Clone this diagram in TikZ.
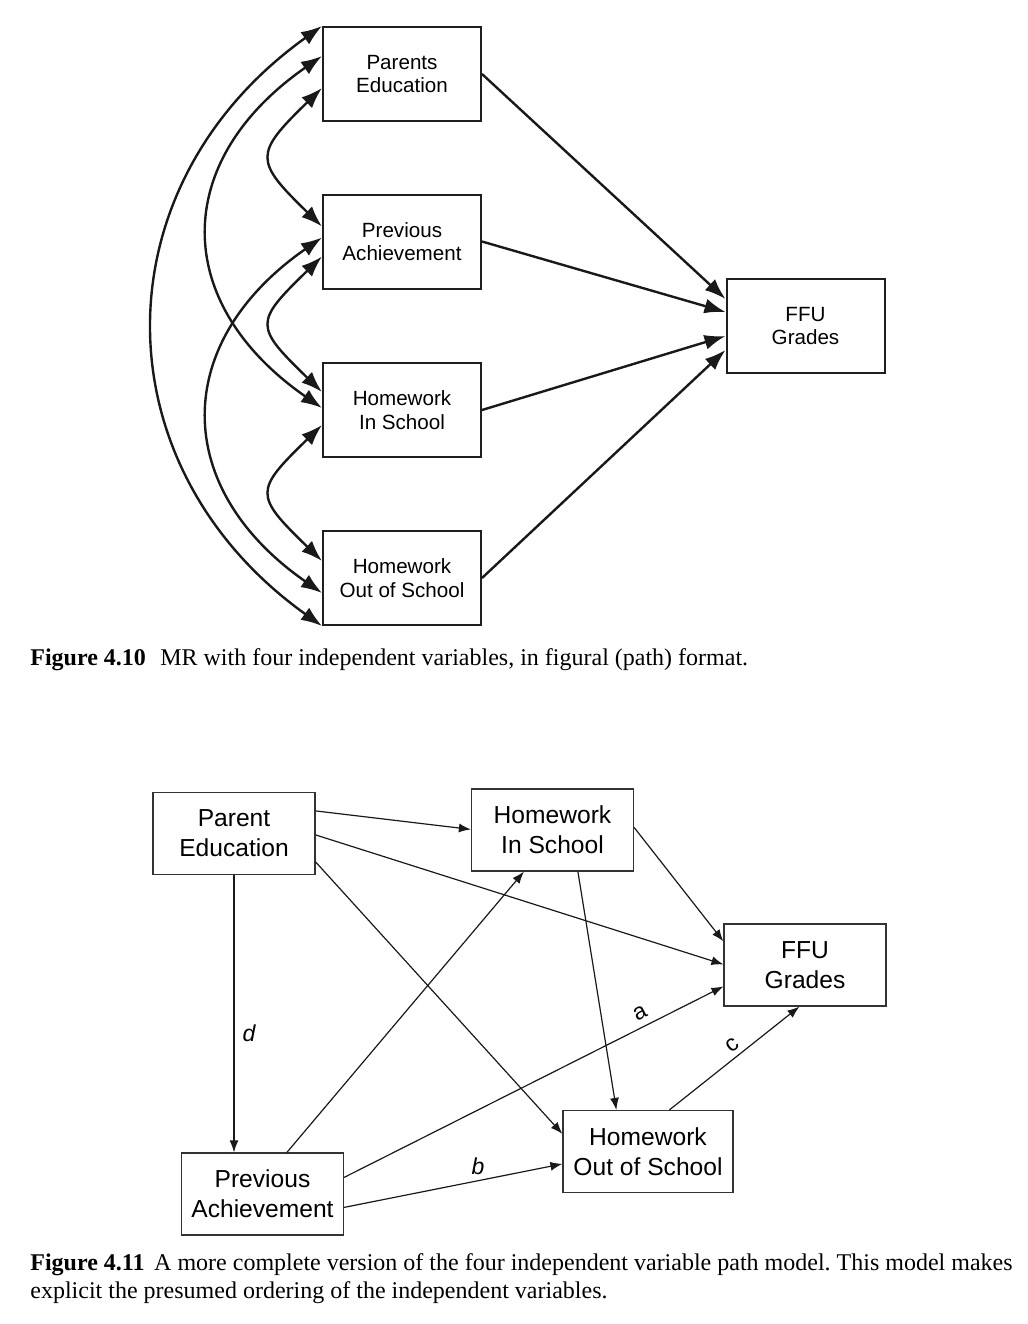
\documentclass[tikz,border=0pt]{standalone}
\usepackage{fontspec}
\setmainfont{Liberation Serif}
\setsansfont{Liberation Sans}
\usetikzlibrary{arrows.meta,calc}
\frenchspacing
\begin{document}
\begin{tikzpicture}[x=0.5pt,y=-0.5pt,
  topbox/.style={draw=black!88, line width=1pt, fill=white, minimum width=79pt, minimum height=47pt, inner sep=0pt, align=center, font=\sffamily\fontsize{10.3}{11.8}\selectfont},
  botbox/.style={draw=black!80, line width=0.6pt, fill=white, minimum width=81pt, minimum height=41pt, inner sep=0pt, align=center, font=\sffamily\fontsize{12.3}{15}\selectfont},
  bi/.style={{Latex[length=10.5pt,width=7.5pt]}-{Latex[length=10.5pt,width=7.5pt]}, line width=1.2pt, draw=black!90},
  onearrow/.style={-{Latex[length=10.5pt,width=7.5pt]}, line width=1.2pt, draw=black!90},
  uni/.style={-{Latex[length=6pt,width=4.5pt]}, line width=0.6pt, draw=black!90},
  lbl/.style={font=\sffamily\itshape\fontsize{11.5}{13}\selectfont, inner sep=0pt},
  lblup/.style={font=\sffamily\fontsize{11.5}{13}\selectfont, inner sep=0pt},
  capt/.style={anchor=base west, inner sep=0pt, font=\rmfamily\fontsize{12}{14}\selectfont}
]
\useasboundingbox (0,0) rectangle (1028,1324);

% ---------------- Figure 4.10 ----------------
\node[topbox] (pe) at (402,74) {Parents\\Education};
\node[topbox] (pa) at (402,241.5) {Previous\\Achievement};
\node[topbox] (his) at (402,410) {Homework\\In School};
\node[topbox] (hos) at (402,578) {Homework\\Out of School};
\node[topbox] (ffu) at (805.5,326) {FFU\\Grades};

\coordinate (pe1) at (pe.north west);
\coordinate (pe2) at ($(pe.north west)+(0,30)$);
\coordinate (pe3) at ($(pe.north west)+(0,62)$);
\coordinate (pa1) at ($(pa.north west)+(0,33)$);
\coordinate (pa2) at ($(pa.north west)+(0,44)$);
\coordinate (pa3) at ($(pa.north west)+(0,63)$);
\coordinate (his1) at ($(his.north west)+(0,30)$);
\coordinate (his2) at ($(his.north west)+(0,46)$);
\coordinate (his3) at ($(his.north west)+(0,63)$);
\coordinate (hos1) at ($(hos.north west)+(0,31)$);
\coordinate (hos2) at ($(hos.north west)+(0,63)$);
\coordinate (hos3) at (hos.south west);

\draw[bi] (pe3) .. controls +(-68,66) and +(-68,-66) .. (pa1);
\draw[bi] (pa3) .. controls +(-68,66) and +(-68,-66) .. (his1);
\draw[bi] (his3) .. controls +(-68,66) and +(-68,-66) .. (hos1);
\draw[bi] (pe2) .. controls +(-151,105) and +(-151,-105) .. (his2);
\draw[bi] (pa2) .. controls +(-151,105) and +(-151,-105) .. (hos2);
\draw[bi] (pe1) .. controls +(-224,160) and +(-224,-160) .. (hos3);

\draw[onearrow] (pe.east) -- ($(ffu.west)+(0,-27)$);
\draw[onearrow] (pa.east) -- ($(ffu.west)+(0,-14)$);
\draw[onearrow] (his.east) -- ($(ffu.west)+(0,10)$);
\draw[onearrow] (hos.east) -- ($(ffu.west)+(0,24)$);

\node[capt] (cap1) at (30,665) {\textbf{Figure 4.10}\hspace{0.6em}MR with four independent variables, in figural (path) format.};

% ---------------- Figure 4.11 ----------------
\node[botbox] (bpe) at (234,833.5) {Parent\\Education};
\node[botbox] (bhis) at (552.5,830) {Homework\\In School};
\node[botbox] (bpa) at (262.5,1194) {Previous\\Achievement};
\node[botbox, minimum width=85pt] (bhos) at (648,1151.5) {Homework\\Out of School};
\node[botbox] (bffu) at (805,965) {FFU\\Grades};

\draw[uni] ($(bpe.north east)+(0,19)$) -- ($(bhis.north west)+(0,41)$);
\draw[uni] ($(bpe.north east)+(0,43)$) -- ($(bffu.north west)+(0,41)$);
\draw[uni] ($(bpe.north east)+(0,70)$) -- ($(bhos.north west)+(0,24)$);
\draw[uni] (bpe.south) -- node[lbl, right=4pt, pos=0.57] (ld) {d} (bpe.south |- bpa.north);
\draw[uni] ($(bpa.north west)+(106,0)$) -- ($(bhis.south west)+(53,0)$);
\draw[uni] ($(bpa.north east)+(0,25)$) -- ($(bffu.north west)+(0,63)$);
\draw[uni] ($(bpa.north east)+(0,55)$) -- ($(bhos.north west)+(0,54)$);
\draw[uni] ($(bhis.north east)+(0,39)$) -- ($(bffu.north west)+(0,18)$);
\draw[uni] ($(bhis.south west)+(107,0)$) -- ($(bhos.north west)+(54,0)$);
\draw[uni] ($(bhos.north west)+(107,0)$) -- ($(bffu.south west)+(76,0)$);

\node[lbl] (lb) at (478,1166) {b};
\node[lblup, rotate=27] (la) at (640,1013) {a};
\node[lblup, rotate=37] (lc) at (732,1045) {c};

\node[capt] (cap2a) at (30,1270) {\textbf{Figure 4.11}\hspace{0.4em}A more complete version of the four independent variable path model. This model makes};
\node[capt] (cap2b) at (30,1298) {explicit the presumed ordering of the independent variables.};
\end{tikzpicture}
\end{document}
